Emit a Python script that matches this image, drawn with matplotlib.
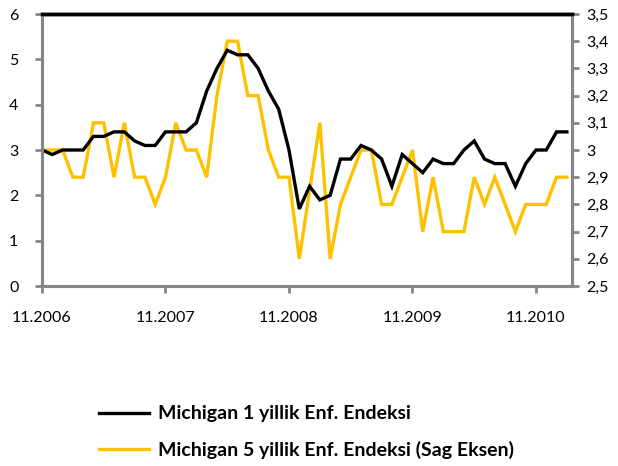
import matplotlib
matplotlib.use("Agg")
import matplotlib.pyplot as plt
import numpy as np

plt.rcParams['font.family'] = ['Lato', 'DejaVu Sans']

# Monthly data, 11.2006 .. 02.2011
months = np.arange(52)
michigan_1y = [3.0, 2.9, 3.0, 3.0, 3.0, 3.3, 3.3, 3.4, 3.4, 3.2, 3.1, 3.1,
               3.4, 3.4, 3.4, 3.6, 4.3, 4.8, 5.2, 5.1, 5.1, 4.8, 4.3, 3.9,
               3.0, 1.7, 2.2, 1.9, 2.0, 2.8, 2.8, 3.1, 3.0, 2.8, 2.2, 2.9,
               2.7, 2.5, 2.8, 2.7, 2.7, 3.0, 3.2, 2.8, 2.7, 2.7, 2.2, 2.7,
               3.0, 3.0, 3.4, 3.4]
michigan_5y = [3.0, 3.0, 3.0, 2.9, 2.9, 3.1, 3.1, 2.9, 3.1, 2.9, 2.9, 2.8,
               2.9, 3.1, 3.0, 3.0, 2.9, 3.2, 3.4, 3.4, 3.2, 3.2, 3.0, 2.9,
               2.9, 2.6, 2.85, 3.1, 2.6, 2.8, 2.9, 3.0, 3.0, 2.8, 2.8, 2.9,
               3.0, 2.7, 2.9, 2.7, 2.7, 2.7, 2.9, 2.8, 2.9, 2.8, 2.7, 2.8,
               2.8, 2.8, 2.9, 2.9]
xtick_pos = [0, 12, 24, 36, 48]
xtick_labels = ["11.2006", "11.2007", "11.2008", "11.2009", "11.2010"]
left_ticks = [0, 1, 2, 3, 4, 5, 6]
right_ticks = [2.5, 2.6, 2.7, 2.8, 2.9, 3.0, 3.1, 3.2, 3.3, 3.4, 3.5]
label_1y = "Michigan 1 yillik Enf. Endeksi"
label_5y = "Michigan 5 yillik Enf. Endeksi (Sag Eksen)"

GRAY = "#868686"
GOLD = "#FFC000"


def fmt_comma(v):
    s = f"{v:.1f}"
    if s.endswith(".0"):
        s = s[:-2]
    return s.replace(".", ",")


fig = plt.figure(figsize=(6.18, 4.66), dpi=100)
ax = fig.add_axes([42/618, 1-286/466, (572-42)/618, (286-14)/466])
ax2 = ax.twinx()

l1, = ax.plot(months, michigan_1y, color="black", lw=2.4, solid_joinstyle="miter")
l2, = ax2.plot(months, michigan_5y, color=GOLD, lw=2.4, solid_joinstyle="miter")
ax.set_zorder(ax2.get_zorder() + 1)
ax.patch.set_visible(False)

ax.set_xlim(0, 51.5)
ax.set_ylim(0, 6)
ax2.set_ylim(2.5, 3.5)
ax.set_yticks(left_ticks)
ax.set_yticklabels([str(v) for v in left_ticks])
ax2.set_yticks(right_ticks)
ax2.set_yticklabels([fmt_comma(v) for v in right_ticks])
ax.set_xticks(xtick_pos)
ax.set_xticklabels(xtick_labels)

for a in (ax, ax2):
    for s in ("left", "right", "bottom"):
        a.spines[s].set_color(GRAY)
        a.spines[s].set_linewidth(2.2)
    a.spines["top"].set_color("black")
    a.spines["top"].set_linewidth(2.5)
    a.tick_params(colors=GRAY, width=2, length=5, labelcolor="black", labelsize=11.5)
ax.tick_params(axis="y", pad=12)
ax2.tick_params(axis="y", pad=5)
ax.tick_params(axis="x", pad=13)

fig.legend([l1, l2], [label_1y, label_5y], loc="upper left",
           bbox_to_anchor=(81/618, 1-388/466), frameon=False,
           prop={"weight": "bold", "size": 14}, handlelength=2.6,
           labelspacing=0.95, handletextpad=0.45)

fig.savefig("out.png", dpi=100)
